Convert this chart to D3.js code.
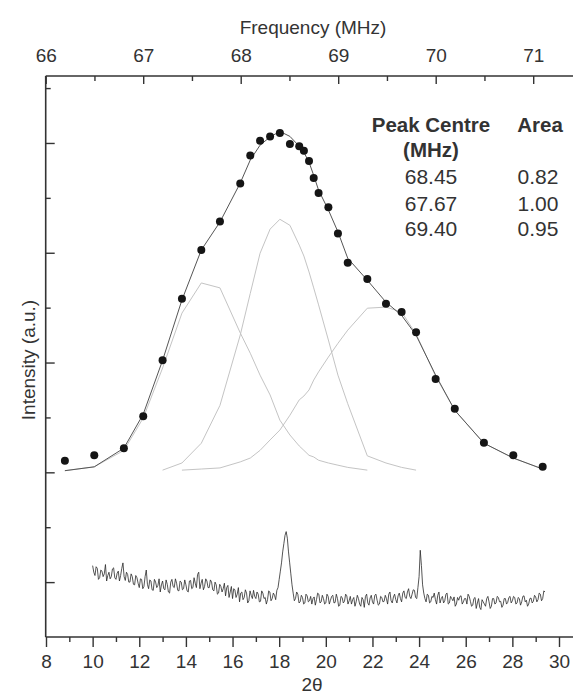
<!DOCTYPE html>
<html><head><meta charset="utf-8">
<script src="https://cdn.jsdelivr.net/npm/d3@7"></script>
<style>
body{margin:0;background:#fff}
svg{display:block}
text{font-family:Arial,"Liberation Sans",sans-serif;fill:#333}
</style>
</head><body><svg id="c" width="573" height="696"></svg>
<script>
// ---- data ----
const twoTheta = [8.81,10.07,11.34,12.17,13.00,13.83,14.66,15.46,16.33,16.76,17.18,17.61,18.03,18.46,18.86,19.06,19.28,19.48,19.69,20.11,20.52,20.94,21.78,22.58,23.25,23.87,24.71,25.53,26.78,28.04,29.30];
const intensity = [2.21,2.31,2.44,3.02,4.04,5.16,6.05,6.57,7.26,7.77,8.04,8.12,8.18,7.98,7.94,7.86,7.67,7.36,7.09,6.83,6.35,5.82,5.52,5.07,4.92,4.55,3.70,3.16,2.54,2.31,2.10];
const fitTotal = [2.03,2.10,2.44,3.06,4.04,5.14,6.05,6.56,7.27,7.69,7.96,8.11,8.21,8.12,7.94,7.83,7.65,7.41,7.14,6.78,6.38,5.90,5.50,5.10,4.86,4.50,3.77,3.13,2.53,2.26,2.06];
const peakA = [2.03,2.10,2.40,2.99,3.90,4.90,5.45,5.36,4.54,4.17,3.77,3.41,2.95,2.68,2.48,2.40,2.31,2.28,2.22,2.17,2.13,2.09,2.04,null,null,null,null,null,null,null,null];
const peakB = [null,null,null,null,2.04,2.17,2.53,3.22,4.50,5.26,5.99,6.43,6.61,6.50,6.14,5.94,5.65,5.36,5.05,4.41,3.77,3.25,2.30,2.17,2.09,2.04,null,null,null,null,null];
const peakC = [null,null,null,null,null,2.04,2.06,2.08,2.19,2.26,2.40,2.59,2.77,3.04,3.32,3.39,3.50,3.68,3.83,4.10,4.35,4.59,4.99,5.01,4.92,4.52,3.75,3.13,2.53,2.26,2.06];

const xrdAngles = [
10,10.05,10.1,10.15,10.2,10.25,10.3,10.35,10.4,10.45,10.5,10.55,10.6,10.65,10.7,10.75,10.8,10.85,10.9,10.95,
11,11.05,11.1,11.15,11.2,11.25,11.3,11.35,11.4,11.45,11.5,11.55,11.6,11.65,11.7,11.75,11.8,11.85,11.9,11.95,
12,12.05,12.1,12.15,12.2,12.25,12.3,12.35,12.4,12.45,12.5,12.55,12.6,12.65,12.7,12.75,12.8,12.85,12.9,12.95,
13,13.05,13.1,13.15,13.2,13.25,13.3,13.35,13.4,13.45,13.5,13.55,13.6,13.65,13.7,13.75,13.8,13.85,13.9,13.95,
14,14.05,14.1,14.15,14.2,14.25,14.3,14.35,14.4,14.45,14.5,14.55,14.6,14.65,14.7,14.75,14.8,14.85,14.9,14.95,
15,15.05,15.1,15.15,15.2,15.25,15.3,15.35,15.4,15.45,15.5,15.55,15.6,15.65,15.7,15.75,15.8,15.85,15.9,15.95,
16,16.05,16.1,16.15,16.2,16.25,16.3,16.35,16.4,16.45,16.5,16.55,16.6,16.65,16.7,16.75,16.8,16.85,16.9,16.95,
17,17.05,17.1,17.15,17.2,17.25,17.3,17.35,17.4,17.45,17.5,17.55,17.6,17.65,17.7,17.75,17.8,17.85,17.9,17.95,
18,18.05,18.1,18.15,18.2,18.25,18.3,18.35,18.4,18.45,18.5,18.55,18.6,18.65,18.7,18.75,18.8,18.85,18.9,18.95,
19,19.05,19.1,19.15,19.2,19.25,19.3,19.35,19.4,19.45,19.5,19.55,19.6,19.65,19.7,19.75,19.8,19.85,19.9,19.95,
20,20.05,20.1,20.15,20.2,20.25,20.3,20.35,20.4,20.45,20.5,20.55,20.6,20.65,20.7,20.75,20.8,20.85,20.9,20.95,
21,21.05,21.1,21.15,21.2,21.25,21.3,21.35,21.4,21.45,21.5,21.55,21.6,21.65,21.7,21.75,21.8,21.85,21.9,21.95,
22,22.05,22.1,22.15,22.2,22.25,22.3,22.35,22.4,22.45,22.5,22.55,22.6,22.65,22.7,22.75,22.8,22.85,22.9,22.95,
23,23.05,23.1,23.15,23.2,23.25,23.3,23.35,23.4,23.45,23.5,23.55,23.6,23.65,23.7,23.75,23.8,23.85,23.9,23.95,
24,24.05,24.1,24.15,24.2,24.25,24.3,24.35,24.4,24.45,24.5,24.55,24.6,24.65,24.7,24.75,24.8,24.85,24.9,24.95,
25,25.05,25.1,25.15,25.2,25.25,25.3,25.35,25.4,25.45,25.5,25.55,25.6,25.65,25.7,25.75,25.8,25.85,25.9,25.95,
26,26.05,26.1,26.15,26.2,26.25,26.3,26.35,26.4,26.45,26.5,26.55,26.6,26.65,26.7,26.75,26.8,26.85,26.9,26.95,
27,27.05,27.1,27.15,27.2,27.25,27.3,27.35,27.4,27.45,27.5,27.55,27.6,27.65,27.7,27.75,27.8,27.85,27.9,27.95,
28,28.05,28.1,28.15,28.2,28.25,28.3,28.35,28.4,28.45,28.5,28.55,28.6,28.65,28.7,28.75,28.8,28.85,28.9,28.95,
29,29.05,29.1,29.15,29.2,29.25,29.3,29.35,29.4];
const xrdCounts = [
0.30,0.18,0.12,0.28,0.25,0.05,0.08,0.22,0.20,0.10,0.15,0.32,0.02,0.12,0.18,0.06,0.10,0.24,0.26,0.08,
0.05,0.16,0.20,0.02,0.12,0.25,0.35,0.10,0.03,0.18,0.14,0.00,0.00,0.15,0.10,-0.04,-0.05,0.12,0.08,-0.02,
-0.10,0.06,0.05,-0.12,-0.08,0.10,0.22,-0.04,-0.12,0.04,0.02,-0.14,-0.15,0.05,0.00,-0.10,-0.06,0.06,-0.18,-0.05,
0.02,-0.12,-0.14,0.04,-0.04,-0.18,-0.20,0.00,0.05,-0.08,-0.10,0.06,-0.02,-0.15,-0.16,0.02,0.00,-0.14,-0.12,0.04,
-0.05,-0.16,-0.18,0.02,0.03,-0.12,-0.10,0.08,-0.02,-0.10,0.14,0.18,-0.12,-0.02,0.05,-0.14,-0.08,0.06,0.02,-0.10,
-0.10,0.04,0.00,-0.14,-0.16,0.00,-0.05,-0.22,-0.20,-0.04,-0.08,-0.18,-0.12,-0.02,-0.25,-0.10,-0.06,-0.28,-0.18,-0.08,
-0.30,-0.12,-0.14,-0.28,-0.22,-0.10,-0.36,-0.20,-0.18,-0.32,-0.28,-0.14,-0.20,-0.38,-0.34,-0.16,-0.24,-0.30,-0.15,-0.26,
-0.30,-0.18,-0.22,-0.36,-0.35,-0.16,-0.20,-0.30,-0.28,-0.40,-0.32,-0.16,-0.18,-0.34,-0.30,-0.20,-0.24,-0.32,-0.15,-0.10,
0.05,0.20,0.35,0.55,0.70,0.85,0.92,0.80,0.55,0.35,0.15,-0.05,-0.20,-0.34,-0.30,-0.18,-0.22,-0.38,-0.36,-0.24,
-0.28,-0.40,-0.38,-0.22,-0.25,-0.36,-0.34,-0.26,-0.40,-0.30,-0.27,-0.42,-0.32,-0.20,-0.22,-0.38,-0.36,-0.24,-0.30,-0.40,
-0.38,-0.22,-0.26,-0.40,-0.33,-0.26,-0.24,-0.38,-0.37,-0.22,-0.30,-0.44,-0.42,-0.26,-0.28,-0.38,-0.35,-0.22,-0.25,-0.40,
-0.34,-0.26,-0.40,-0.32,-0.28,-0.44,-0.36,-0.24,-0.30,-0.40,-0.44,-0.28,-0.32,-0.46,-0.26,-0.22,-0.38,-0.42,-0.29,-0.24,
-0.36,-0.40,-0.24,-0.22,-0.33,-0.42,-0.40,-0.26,-0.28,-0.36,-0.35,-0.24,-0.30,-0.40,-0.22,-0.18,-0.34,-0.38,-0.27,-0.22,
-0.32,-0.38,-0.25,-0.20,-0.30,-0.36,-0.20,-0.16,-0.28,-0.30,-0.18,-0.12,-0.26,-0.30,-0.22,-0.14,-0.15,-0.28,-0.30,-0.10,
0.10,0.58,0.30,-0.05,-0.20,-0.30,-0.36,-0.22,-0.24,-0.38,-0.36,-0.26,-0.28,-0.20,-0.32,-0.40,-0.24,-0.18,-0.38,-0.30,
-0.26,-0.38,-0.34,-0.22,-0.20,-0.40,-0.38,-0.26,-0.30,-0.34,-0.27,-0.44,-0.40,-0.28,-0.33,-0.26,-0.25,-0.40,-0.36,-0.30,
-0.30,-0.40,-0.22,-0.26,-0.35,-0.44,-0.42,-0.30,-0.28,-0.48,-0.38,-0.30,-0.46,-0.50,-0.32,-0.36,-0.40,-0.44,-0.30,-0.26,
-0.36,-0.48,-0.44,-0.30,-0.30,-0.40,-0.38,-0.26,-0.28,-0.36,-0.35,-0.46,-0.42,-0.30,-0.30,-0.40,-0.37,-0.28,-0.26,-0.38,
-0.34,-0.26,-0.28,-0.40,-0.38,-0.28,-0.30,-0.42,-0.36,-0.26,-0.25,-0.36,-0.33,-0.44,-0.40,-0.30,-0.29,-0.38,-0.35,-0.24,
-0.27,-0.36,-0.32,-0.20,-0.22,-0.34,-0.30,-0.16,-0.18];

const bottomMajor = [8,10,12,14,16,18,20,22,24,26,28,30];
const bottomMinor = [9,11,13,15,17,19,21,23,25,27,29];
const topMajor = [66,67,68,69,70,71];
const topMinor = [66.5,67.5,68.5,69.5,70.5];
const leftMajor = [0,2,4,6,8];
const leftMinor = [1,3,5,7,9];
const tableHead = ["Peak Centre","(MHz)","Area"];
const peakCentres = ["68.45","67.67","69.40"];
const peakAreas = ["0.82","1.00","0.95"];

// ---- scales ----
const svg = d3.select("#c");
const x = d3.scaleLinear().domain([8,30]).range([46,559]);
const xf = d3.scaleLinear().domain([66,71]).range([45.7,533.2]);
const y = d3.scaleLinear().domain([-1,9.22]).range([637,76]);
const L = 45.7, R = 573, T = 76, B = 637;
const axisCol = "#333";

function styleAxis(g){
  g.select(".domain").remove();
  g.selectAll("line").attr("stroke",axisCol).attr("stroke-width",1.4);
  g.selectAll("text").attr("fill","#333").style("font-size","19px").style("font-family","Arial, 'Liberation Sans', sans-serif");
}

// bottom axis
svg.append("g").attr("transform",`translate(0,${B})`)
  .call(d3.axisBottom(x).tickValues(bottomMajor).tickSize(10).tickPadding(8).tickFormat(d3.format("d")))
  .call(styleAxis);
svg.append("g").attr("transform",`translate(0,${B})`)
  .call(d3.axisBottom(x).tickValues(bottomMinor).tickSize(5).tickFormat(""))
  .call(styleAxis);
// top axis (ticks inward)
svg.append("g").attr("transform",`translate(0,${T})`)
  .call(d3.axisTop(xf).tickValues(topMajor).tickSize(-8).tickPadding(14).tickFormat(d3.format("d")))
  .call(styleAxis);
svg.append("g").attr("transform",`translate(0,${T})`)
  .call(d3.axisTop(xf).tickValues(topMinor).tickSize(-5).tickFormat(""))
  .call(styleAxis);
// left axis (ticks inward, no labels)
svg.append("g").attr("transform",`translate(${L},0)`)
  .call(d3.axisLeft(y).tickValues(leftMajor).tickSize(-9).tickFormat(""))
  .call(styleAxis);
svg.append("g").attr("transform",`translate(${L},0)`)
  .call(d3.axisLeft(y).tickValues(leftMinor).tickSize(-5).tickFormat(""))
  .call(styleAxis);

// axis lines
svg.append("line").attr("x1",L).attr("x2",L).attr("y1",T).attr("y2",B).attr("stroke",axisCol).attr("stroke-width",1.6);
svg.append("line").attr("x1",L).attr("x2",R).attr("y1",T).attr("y2",T).attr("stroke",axisCol).attr("stroke-width",1.6);
svg.append("line").attr("x1",L).attr("x2",R).attr("y1",B).attr("y2",B).attr("stroke",axisCol).attr("stroke-width",1.6);

// titles
svg.append("text").attr("x",313).attr("y",27).attr("dy","0.35em").attr("text-anchor","middle").style("font-size","19px").text("Frequency (MHz)");
svg.append("text").attr("x",312).attr("y",684).attr("dy","0.35em").attr("text-anchor","middle").style("font-size","19px").text("2θ");
svg.append("text").attr("transform","translate(28,360) rotate(-90)").attr("dy","0.35em").attr("text-anchor","middle").style("font-size","19px").text("Intensity (a.u.)");

// component peaks
const line = d3.line().defined(d => d[1] !== null).x(d => x(d[0])).y(d => y(d[1]));
[peakA, peakB, peakC].forEach(p => {
  svg.append("path").datum(twoTheta.map((t,i) => [t,p[i]]))
    .attr("d",line).attr("fill","none").attr("stroke","#c4c4c4").attr("stroke-width",1);
});
// total fit
svg.append("path").datum(twoTheta.map((t,i) => [t,fitTotal[i]]))
  .attr("d",line).attr("fill","none").attr("stroke","#555").attr("stroke-width",1);
// data dots
svg.append("g").selectAll("circle").data(twoTheta.map((t,i)=>[t,intensity[i]])).join("circle")
  .attr("cx",d=>x(d[0])).attr("cy",d=>y(d[1])).attr("r",4).attr("fill","#151515");

// XRD trace
svg.append("path").datum(xrdAngles.map((t,i)=>[t,xrdCounts[i]]))
  .attr("d",d3.line().x(d=>x(d[0])).y(d=>y(d[1]))).attr("fill","none").attr("stroke","#2a2a2a").attr("stroke-width",0.8);

// table
const tb = svg.append("g");
tb.append("text").attr("x",431).attr("y",125).attr("dy","0.35em").attr("text-anchor","middle").style("font-size","20.5px").style("font-weight","bold").attr("fill","#222").text(tableHead[0]);
tb.append("text").attr("x",431).attr("y",150).attr("dy","0.35em").attr("text-anchor","middle").style("font-size","20.5px").style("font-weight","bold").attr("fill","#222").text(tableHead[1]);
tb.append("text").attr("x",540).attr("y",125).attr("dy","0.35em").attr("text-anchor","middle").style("font-size","20.5px").style("font-weight","bold").attr("fill","#222").text(tableHead[2]);
const rowY = [176.7,203.3,228.3];
peakCentres.forEach((c,i)=>{
  tb.append("text").attr("x",431).attr("y",rowY[i]).attr("dy","0.35em").attr("text-anchor","middle").style("font-size","21px").attr("fill","#222").text(c);
  tb.append("text").attr("x",538).attr("y",rowY[i]).attr("dy","0.35em").attr("text-anchor","middle").style("font-size","21px").attr("fill","#222").text(peakAreas[i]);
});
</script>
</body></html>
